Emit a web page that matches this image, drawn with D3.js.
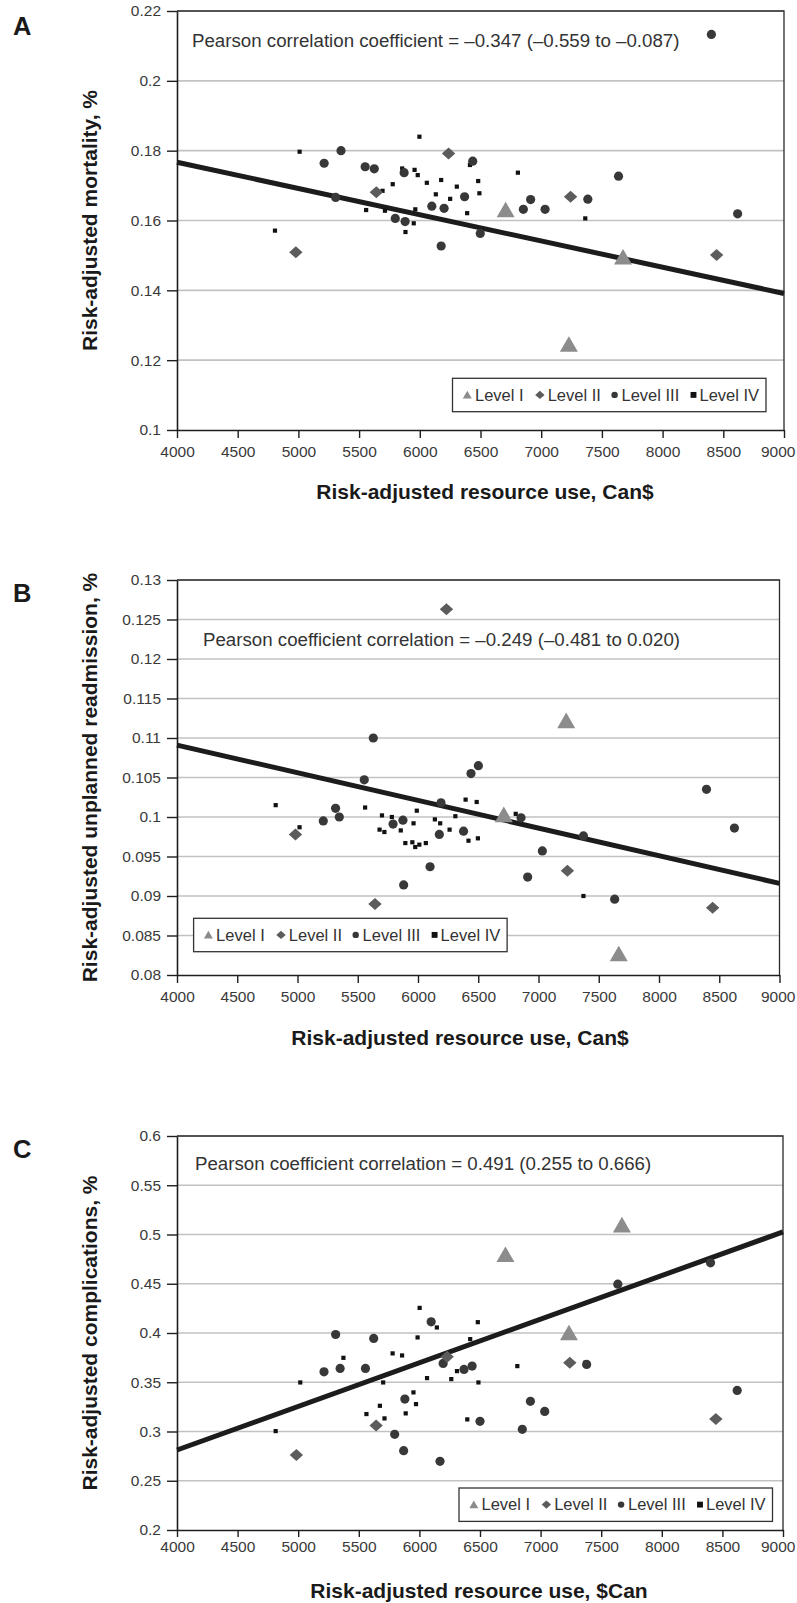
<!DOCTYPE html>
<html>
<head>
<meta charset="utf-8">
<script src="https://cdn.jsdelivr.net/npm/d3@7"></script>
<style>
  body { margin: 0; background: #fff; }
  svg text { font-family: "Liberation Sans", Arial, Helvetica, sans-serif; }
</style>
</head>
<body>
<div id="contenedor"></div>
<script>

// DATOS

xTicks = [4000, 4500, 5000, 5500, 6000, 6500, 7000, 7500, 8000, 8500, 9000]
yTicksA = [0.1, 0.12, 0.14, 0.16, 0.18, 0.2, 0.22]
yTicksB = [0.08, 0.085, 0.09, 0.095, 0.1, 0.105, 0.11, 0.115, 0.12, 0.125, 0.13]
yTicksC = [0.2, 0.25, 0.3, 0.35, 0.4, 0.45, 0.5, 0.55, 0.6]

niveles = ["Level I", "Level II", "Level III", "Level IV"]

// A - mortalidad
nivelI_A = [[6707, 0.1624], [7674, 0.1489], [7228, 0.1239]]
nivelII_A = [[4979, 0.1509], [5642, 0.1681], [6237, 0.1792], [7242, 0.1668], [8445, 0.1501]]
nivelIII_A = [[8402, 0.2133], [5212, 0.1764], [5351, 0.1800], [5550, 0.1754], [5625, 0.1748],
  [5871, 0.1737], [6436, 0.1770], [7637, 0.1727], [6369, 0.1668], [6913, 0.1660],
  [7384, 0.1661], [5307, 0.1666], [6099, 0.1641], [6200, 0.1635], [5798, 0.1606],
  [5879, 0.1597], [6176, 0.1527], [6498, 0.1563], [6853, 0.1632], [7032, 0.1632], [8618, 0.1619]]
nivelIV_A = [[5010, 0.1797], [5855, 0.1749], [5957, 0.1745], [5983, 0.1730], [5997, 0.1840],
  [6413, 0.1759], [6058, 0.1708], [6176, 0.1716], [6305, 0.1697], [6481, 0.1713],
  [5777, 0.1704], [6808, 0.1737], [5693, 0.1685], [6132, 0.1675], [6250, 0.1662],
  [6491, 0.1678], [5558, 0.1630], [5713, 0.1628], [5963, 0.1632], [6390, 0.1621],
  [5950, 0.1592], [5882, 0.1567], [4807, 0.1571], [7363, 0.1606]]
tendenciaA = [[4000, 0.1767], [9000, 0.1391]]

// B - readmision
nivelI_B = [[7230, 0.1119], [6712, 0.1000], [7666, 0.0824]]
nivelII_B = [[6236, 0.1263], [4983, 0.0978], [5643, 0.0890], [7240, 0.0932], [8445, 0.0885]]
nivelIII_B = [[5629, 0.1100], [5554, 0.1047], [6440, 0.1055], [6501, 0.1065], [8394, 0.1035],
  [8626, 0.0986], [5316, 0.1011], [5214, 0.0995], [5347, 0.1000], [6191, 0.1018],
  [5793, 0.0991], [5875, 0.0996], [6177, 0.0978], [6378, 0.0982], [6855, 0.0999],
  [7373, 0.0976], [7032, 0.0957], [6910, 0.0924], [6100, 0.0937], [5881, 0.0914], [7632, 0.0896]]
nivelIV_B = [[4819, 0.1015], [5561, 0.1012], [5017, 0.0987], [6395, 0.1022], [6487, 0.1019],
  [5990, 0.1008], [5701, 0.1002], [5783, 0.1000], [5963, 0.0992], [5681, 0.0984],
  [5721, 0.0981], [5857, 0.0983], [6140, 0.0997], [6184, 0.0992], [6310, 0.1001],
  [6262, 0.0984], [6419, 0.0970], [6497, 0.0973], [5895, 0.0967], [5953, 0.0968],
  [5977, 0.0962], [6011, 0.0965], [6065, 0.0967], [6811, 0.1004], [7373, 0.0900]]
tendenciaB = [[4000, 0.1091], [9000, 0.0916]]

// C - complicaciones
nivelI_C = [[6710, 0.4773], [7671, 0.5074], [7234, 0.3978]]
nivelII_C = [[6229, 0.3758], [7241, 0.3698], [8446, 0.3126], [5643, 0.3062], [4985, 0.2761]]
nivelIII_C = [[8402, 0.4712], [7637, 0.4496], [6097, 0.4113], [5309, 0.3985], [5623, 0.3945],
  [6196, 0.3691], [5213, 0.3606], [5346, 0.3640], [5555, 0.3640], [6368, 0.3630],
  [6435, 0.3664], [7380, 0.3681], [5880, 0.3329], [6916, 0.3306], [7034, 0.3204],
  [8622, 0.3417], [6500, 0.3103], [6849, 0.3022], [5796, 0.2971], [5870, 0.2805], [6170, 0.2697]]
nivelIV_C = [[6002, 0.4255], [6144, 0.4056], [6482, 0.4110], [5985, 0.3955], [6419, 0.3938],
  [5373, 0.3748], [5779, 0.3793], [5857, 0.3772], [6310, 0.3613], [6063, 0.3542],
  [6263, 0.3532], [6808, 0.3664], [7370, 0.3700], [5017, 0.3498], [5701, 0.3498],
  [6487, 0.3498], [5951, 0.3397], [5972, 0.3278], [5674, 0.3261], [5563, 0.3177],
  [5887, 0.3184], [5712, 0.3133], [6395, 0.3123], [4814, 0.3004]]
tendenciaC = [[4000, 0.2812], [9000, 0.5026]]

// PANELES (posiciones en px)
paneles = [
  { letra: "A", yTicks: yTicksA, yDom: [0.1, 0.22], x0: 177, x1: 784, y0: 11, y1: 430,
    puntos: [nivelI_A, nivelII_A, nivelIII_A, nivelIV_A], tendencia: tendenciaA,
    nota: "Pearson correlation coefficient = \u20130.347 (\u20130.559 to \u20130.087)", notaX: 192, notaY: 46.5,
    tituloY: "Risk-adjusted mortality, %", tituloX: "Risk-adjusted resource use, Can$",
    tituloXx: 485, tituloXy: 499, letraY: 35, leyX: 452.5, leyY: 378.3, tick: 8, pad: 8.3 },
  { letra: "B", yTicks: yTicksB, yDom: [0.08, 0.13], x0: 177, x1: 779.5, y0: 580, y1: 975,
    puntos: [nivelI_B, nivelII_B, nivelIII_B, nivelIV_B], tendencia: tendenciaB,
    nota: "Pearson coefficient correlation = \u20130.249 (\u20130.481 to 0.020)", notaX: 203, notaY: 646,
    tituloY: "Risk-adjusted unplanned readmission, %", tituloX: "Risk-adjusted resource use, Can$",
    tituloXx: 460, tituloXy: 1045, letraY: 601.5, leyX: 193.6, leyY: 918.3, tick: 8, pad: 8.3 },
  { letra: "C", yTicks: yTicksC, yDom: [0.2, 0.6], x0: 177, x1: 783, y0: 1136, y1: 1530,
    puntos: [nivelI_C, nivelII_C, nivelIII_C, nivelIV_C], tendencia: tendenciaC,
    nota: "Pearson coefficient correlation = 0.491 (0.255 to 0.666)", notaX: 195, notaY: 1170,
    tituloY: "Risk-adjusted complications, %", tituloX: "Risk-adjusted resource use, $Can",
    tituloXx: 479, tituloXy: 1598, letraY: 1158, leyX: 459, leyY: 1488, tick: 7, pad: 3.8 }
]

ancho = 797
alto = 1603

svg = d3.select("#contenedor")
  .append("svg")
  .attr("width", ancho)
  .attr("height", alto)

colores = ["#8c8c8c", "#5c5c5c", "#383838", "#111"]

// marcas: triangulo, rombo, circulo, cuadrado
function marca(sel, nivel, s) {
  if (nivel == 0) {
    sel.append("path").attr("d", d3.symbol(d3.symbolTriangle, 140 * s * s)).attr("fill", colores[0])
  } else if (nivel == 1) {
    sel.append("path").attr("d", "M0," + (-6 * s) + "L" + (6.7 * s) + ",0L0," + (6 * s) + "L" + (-6.7 * s) + ",0Z")
      .attr("fill", colores[1])
  } else if (nivel == 2) {
    sel.append("circle").attr("r", 4.6 * s).attr("fill", colores[2])
  } else {
    sel.append("rect").attr("x", -2.1 * s).attr("y", -2.1 * s).attr("width", 4.2 * s).attr("height", 4.2 * s)
      .attr("fill", colores[3])
  }
}

fmt = function(d) { return String(+d.toFixed(3)) }

paneles.forEach(function(p) {

  g = svg.append("g")

  x = d3.scaleLinear().domain([4000, 9000]).range([p.x0, p.x1])
  y = d3.scaleLinear().domain(p.yDom).range([p.y1, p.y0])

  // rejilla
  g.selectAll(".grid")
    .data(p.yTicks.slice(1))
    .enter()
    .append("line")
    .attr("x1", p.x0).attr("x2", p.x1)
    .attr("y1", function(d) { return y(d) })
    .attr("y2", function(d) { return y(d) })
    .attr("stroke", "#c2c2c2")
    .attr("stroke-width", 1.7)

  // marco arriba y derecha
  g.append("path")
    .attr("d", "M" + p.x0 + "," + p.y0 + "H" + p.x1 + "V" + p.y1)
    .attr("fill", "none")
    .attr("stroke", "#2a2a2a")
    .attr("stroke-width", 1.3)

  //EJES
  ejeY = d3.axisLeft(y).tickValues(p.yTicks).tickFormat(fmt).tickSize(10).tickSizeOuter(0).tickPadding(6)
  ejeX = d3.axisBottom(x).tickValues(xTicks).tickFormat(d3.format("d")).tickSize(p.tick).tickSizeOuter(0).tickPadding(p.pad)

  gy = g.append("g").attr("transform", "translate(" + p.x0 + ",0)").call(ejeY)
  gx = g.append("g").attr("transform", "translate(0," + p.y1 + ")").call(ejeX)

  ;[gx, gy].forEach(function(e) {
    e.select(".domain").attr("stroke", "#1e1e1e").attr("stroke-width", 1.6)
    e.selectAll(".tick line").attr("stroke", "#1e1e1e").attr("stroke-width", 1.4)
    e.selectAll("text").attr("font-size", "15.5px").attr("fill", "#3a3a3a")
      .attr("font-family", "Liberation Sans, Arial, sans-serif")
  })

  // la ultima etiqueta (9000) no debe salirse del borde
  gx.selectAll(".tick text")
    .filter(function(d) { return d == 9000 })
    .attr("dx", Math.min(0, 795 - (x(9000) + 17.3)))

  // linea de tendencia
  g.append("path")
    .datum(p.tendencia)
    .attr("d", d3.line().x(function(d) { return x(d[0]) }).y(function(d) { return y(d[1]) }))
    .attr("stroke", "#1c1c1c")
    .attr("stroke-width", 5)
    .attr("fill", "none")

  // puntos: primero nivel IV, encima los demas
  ;[3, 2, 1, 0].forEach(function(n) {
    g.selectAll(".n" + n)
      .data(p.puntos[n])
      .enter()
      .append("g")
      .attr("transform", function(d) { return "translate(" + x(d[0]) + "," + y(d[1]) + ")" })
      .each(function() { marca(d3.select(this), n, 1) })
  })

  // texto de correlacion
  g.append("text")
    .attr("x", p.notaX).attr("y", p.notaY)
    .attr("font-size", "18.7px")
    .attr("fill", "#333")
    .text(p.nota)

  // leyenda
  ley = g.append("g").attr("transform", "translate(" + p.leyX + "," + p.leyY + ")")
  ley.append("rect")
    .attr("width", 313.5).attr("height", 33.4)
    .attr("fill", "#fff").attr("stroke", "#333").attr("stroke-width", 1.3)
  offSimbolo = [14.8, 87.4, 162.1, 241]
  offTexto = [22.5, 95.2, 169, 247]
  niveles.forEach(function(t, n) {
    s = ley.append("g").attr("transform", "translate(" + offSimbolo[n] + "," + (n == 0 ? 17.6 : 16.6) + ")")
    marca(s, n, n == 0 ? 0.5 : (n == 3 ? 1.4 : 0.7))
    ley.append("text")
      .attr("x", offTexto[n]).attr("y", 22.4)
      .attr("font-size", "16.5px").attr("fill", "#333")
      .text(t)
  })

  // titulos
  g.append("text")
    .attr("x", p.tituloXx).attr("y", p.tituloXy)
    .attr("text-anchor", "middle")
    .attr("font-size", "21px").attr("font-weight", "bold").attr("fill", "#1a1a1a")
    .text(p.tituloX)

  g.append("text")
    .attr("transform", "translate(96.5," + ((p.y0 + p.y1) / 2) + ") rotate(-90)")
    .attr("text-anchor", "middle")
    .attr("font-size", "21px").attr("font-weight", "bold").attr("fill", "#1a1a1a")
    .text(p.tituloY)

  g.append("text")
    .attr("x", 13).attr("y", p.letraY)
    .attr("font-size", "25.5px").attr("font-weight", "bold").attr("fill", "#1a1a1a")
    .text(p.letra)
})

</script>
</body>
</html>
